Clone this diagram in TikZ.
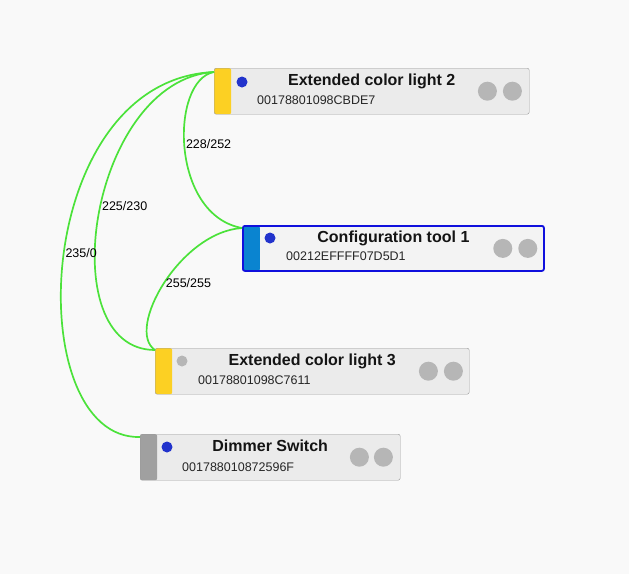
\documentclass[tikz,border=0pt]{standalone}
\usepackage{fontspec}
\setmainfont{Liberation Sans}
\usetikzlibrary{calc}
\definecolor{canvas}{HTML}{F9F9F9}
\definecolor{boxfill}{HTML}{EBEBEB}
\definecolor{boxline}{HTML}{9A9A9A}
\definecolor{lampyellow}{HTML}{FCD023}
\definecolor{toolblue}{HTML}{0A84D0}
\definecolor{switchgrey}{HTML}{A0A0A0}
\definecolor{selblue}{HTML}{1010DD}
\definecolor{dotblue}{HTML}{2233CC}
\definecolor{knobgrey}{HTML}{B6B6B6}
\definecolor{linkgreen}{HTML}{4BE23A}

\begin{document}
\begin{tikzpicture}[x=1pt, y=-1pt,
  devbox/.style={draw=boxline, fill=boxfill, rounded corners=2pt, inner sep=0pt,
    minimum height=46pt, anchor=north west,
    path picture={\fill[#1] (path picture bounding box.north west) rectangle
      ([xshift=17pt]path picture bounding box.south west);}},
  selbox/.style={devbox=#1, draw=selblue, line width=1.8pt, fill=white!40!boxfill},
  devname/.style={font=\bfseries\fontsize{16}{18}\selectfont, text=black!92, inner sep=0pt, anchor=base},
  devid/.style={font=\fontsize{12.5}{14}\selectfont, text=black!85, anchor=base west, inner sep=0pt},
  dot/.style={circle, fill=#1, minimum size=11pt, inner sep=0pt},
  knob/.style={circle, fill=knobgrey, minimum size=19pt, inner sep=0pt},
  link/.style={draw=linkgreen, line width=1.7pt},
  linklbl/.style={font=\fontsize{12.5}{14}\selectfont, anchor=west, inner sep=1pt}
]
\fill[canvas] (0,0) rectangle (629,574);
\useasboundingbox (0,0) rectangle (629,574);

% devices
\node[devbox=lampyellow, minimum width=315pt] (lamp2) at (214,68) {};
\node[selbox=toolblue, minimum width=301pt, minimum height=45pt] (tool1) at (242,225) {};
\node[devbox=lampyellow, minimum width=314pt] (lamp3) at (155,348) {};
\node[devbox=switchgrey, minimum width=260pt] (dimmer) at (140,434) {};

% names and ids
\node[devname] (lamp2name) at ($(lamp2.north)+(0,17)$) {Extended color light 2};
\node[devid] (lamp2id) at ($(lamp2.north west)+(43,36)$) {00178801098CBDE7};
\node[devname] (tool1name) at ($(tool1.north)+(0,17)$) {Configuration tool 1};
\node[devid] (tool1id) at ($(tool1.north west)+(44,35)$) {00212EFFFF07D5D1};
\node[devname] (lamp3name) at ($(lamp3.north)+(0,17)$) {Extended color light 3};
\node[devid] (lamp3id) at ($(lamp3.north west)+(43,36)$) {00178801098C7611};
\node[devname] (dimmername) at ($(dimmer.north)+(0,17)$) {Dimmer Switch};
\node[devid] (dimmerid) at ($(dimmer.north west)+(42,37)$) {001788010872596F};

% status dots
\node[dot=dotblue] (lamp2dot) at ($(lamp2.north west)+(28,14)$) {};
\node[dot=dotblue] (tool1dot) at ($(tool1.north west)+(28,13)$) {};
\node[dot=knobgrey] (lamp3dot) at ($(lamp3.north west)+(27,13)$) {};
\node[dot=dotblue] (dimmerdot) at ($(dimmer.north west)+(27,13)$) {};

% knobs
\node[knob] (lamp2a) at ($(lamp2.east)+(-42,0)$) {};
\node[knob] (lamp2b) at ($(lamp2.east)+(-17,0)$) {};
\node[knob] (tool1a) at ($(tool1.east)+(-42,0)$) {};
\node[knob] (tool1b) at ($(tool1.east)+(-17,0)$) {};
\node[knob] (lamp3a) at ($(lamp3.east)+(-41,0)$) {};
\node[knob] (lamp3b) at ($(lamp3.east)+(-16,0)$) {};
\node[knob] (dimmera) at ($(dimmer.east)+(-41,0)$) {};
\node[knob] (dimmerb) at ($(dimmer.east)+(-17,0)$) {};

% links
\coordinate (lamp2in) at ($(lamp2.north west)+(0,4)$);
\coordinate (tool1in) at ($(tool1.north west)+(0,3)$);
\coordinate (lamp3in) at ($(lamp3.north west)+(0,2)$);
\coordinate (dimmerin) at ($(dimmer.north west)+(0,3)$);

\draw[link] (lamp2in) .. controls (170,80) and (170,215) .. (tool1in)
  node[linklbl, pos=.48] (l1) {228/252};
\draw[link] (lamp2in) .. controls (90,80) and (50,350) .. (lamp3in)
  node[linklbl, pos=.48] (l2) {225/230};
\draw[link] (lamp2in) .. controls (30,80) and (20,440) .. (dimmerin)
  node[linklbl, pos=.49] (l3) {235/0};
\draw[link] (tool1in) .. controls (180,232) and (125,330) .. (lamp3in)
  node[linklbl, pos=.5] (l4) {255/255};
\end{tikzpicture}
\end{document}
